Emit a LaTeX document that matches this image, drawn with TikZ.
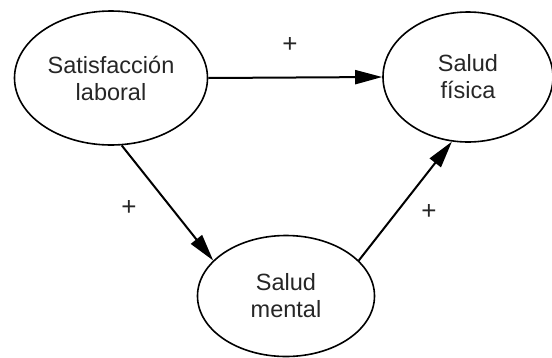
\documentclass[tikz,border=0pt]{standalone}
\usepackage{fontspec}
\setmainfont{Liberation Sans}
\usetikzlibrary{shapes.geometric,arrows.meta}
\begin{document}
\begin{tikzpicture}[x=1pt,y=-1pt,
    var/.style={ellipse, draw, line width=1.6pt, align=center,
        font=\fontsize{23.5}{27}\selectfont, text=black!85},
    path/.style={line width=2pt, -{Triangle[length=27pt,width=14pt]}},
    sign/.style={font=\fontsize{26}{30}\selectfont, text=black!85}]
    \useasboundingbox (0,0) rectangle (552,357);

    % variables
    \node[var, minimum width=193pt, minimum height=134pt] (sat) at (111,78) {Satisfacción\\laboral};
    \node[var, minimum width=170pt, minimum height=130pt] (fis) at (468,77) {Salud\\física};
    \node[var, minimum width=177pt, minimum height=121pt] (men) at (286,296) {Salud\\mental};

    % relaciones
    \draw[path] (sat.east) -- (fis.west);
    \draw[path] (sat.-81) -- (men.154);
    \draw[path] (men.26) -- (fis.-104);

    \node[sign] (p1) at (290,45) {+};
    \node[sign] (p2) at (129,208) {+};
    \node[sign] (p3) at (429,212) {+};
\end{tikzpicture}
\end{document}
